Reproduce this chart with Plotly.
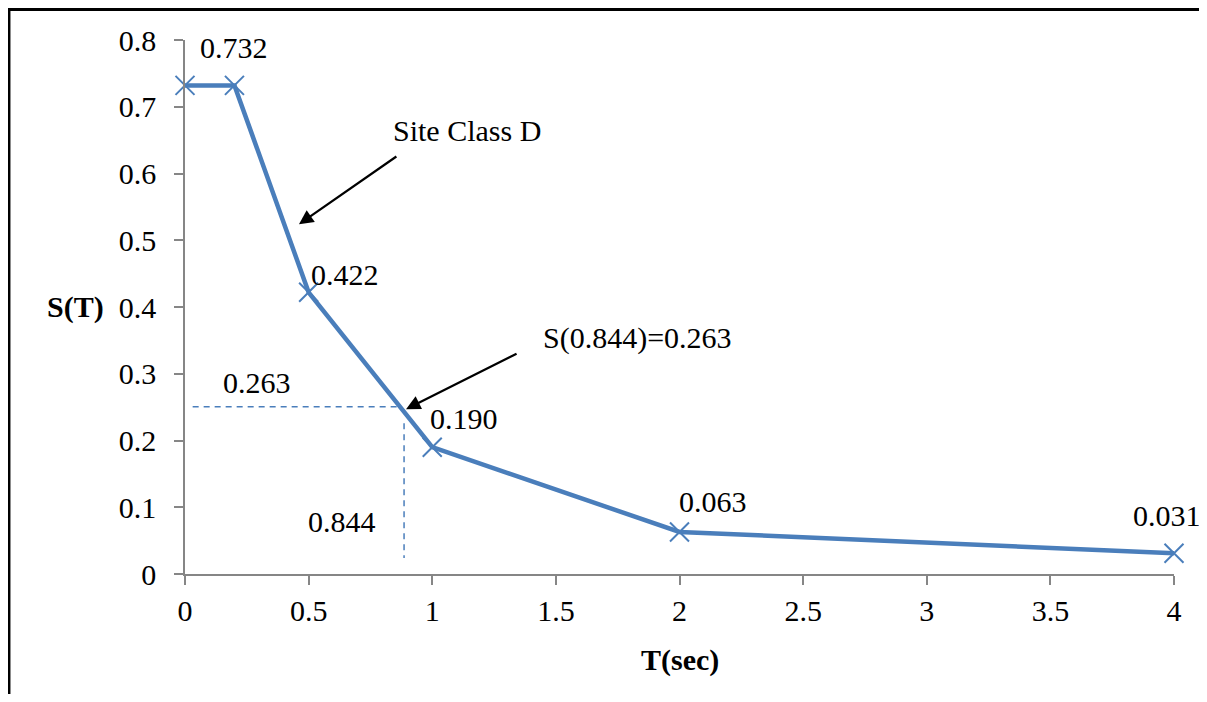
import plotly.graph_objects as go

# Data
period = [0, 0.2, 0.5, 1, 2, 4]
spectral = [0.732, 0.732, 0.422, 0.190, 0.063, 0.031]
point_labels = ["", "0.732", "0.422", "0.190", "0.063", "0.031"]

x_ticks = [0, 0.5, 1, 1.5, 2, 2.5, 3, 3.5, 4]
x_tick_text = ["0", "0.5", "1", "1.5", "2", "2.5", "3", "3.5", "4"]
y_ticks = [0, 0.1, 0.2, 0.3, 0.4, 0.5, 0.6, 0.7, 0.8]
y_tick_text = ["0", "0.1", "0.2", "0.3", "0.4", "0.5", "0.6", "0.7", "0.8"]

# Reference lines for S(0.844)
ref_h_x = [0.031, 0.869]
ref_h_y = [0.2504, 0.2504]
ref_v_x = [0.886, 0.886]
ref_v_y = [0.226, 0.024]

BLUE = "#4A7EBB"
FONT = "Times New Roman"
FS = 30

# plot area in page pixels (page has an 8px body margin)
PX0, PX1, PY0, PY1 = 185, 1174, 40, 574
FIG_W, FIG_H = 1191, 686


def px_to_paper_x(px):
    return (px - PX0) / (PX1 - PX0)


def px_to_paper_y(py):
    return (PY1 - py) / (PY1 - PY0)


fig = go.Figure()

fig.add_trace(go.Scatter(
    x=ref_h_x, y=ref_h_y, mode="lines",
    line=dict(color=BLUE, width=1.5, dash="6px,5px"),
    hoverinfo="skip", showlegend=False))
fig.add_trace(go.Scatter(
    x=ref_v_x, y=ref_v_y, mode="lines",
    line=dict(color=BLUE, width=1.5, dash="6px,5px"),
    hoverinfo="skip", showlegend=False))

fig.add_trace(go.Scatter(
    x=period, y=spectral, mode="lines+markers",
    line=dict(color=BLUE, width=4.5),
    marker=dict(symbol="x-thin", size=19, line=dict(color=BLUE, width=2)),
    showlegend=False, cliponaxis=False))

# Data labels
shifts = [(0, 0), (0, 38), (36, 18), (32, 29), (33, 30), (-7, 38)]
for xv, yv, lab, (dx, dy) in zip(period, spectral, point_labels, shifts):
    if not lab:
        continue
    fig.add_annotation(x=xv, y=yv, text=lab, showarrow=False,
                       xshift=dx, yshift=dy, xanchor="center", yanchor="middle",
                       font=dict(family=FONT, size=FS, color="black"))

# Arrows
fig.add_annotation(x=0.461, y=0.524, ax=0.861, ay=0.627, axref="x", ayref="y",
                   text="", showarrow=True, arrowhead=2, arrowsize=1.3,
                   arrowwidth=2.2, arrowcolor="black")
fig.add_annotation(x=0.894, y=0.247, ax=1.347, ay=0.331, axref="x", ayref="y",
                   text="", showarrow=True, arrowhead=2, arrowsize=1.3,
                   arrowwidth=2.2, arrowcolor="black")

# Text annotations
texts = [
    (1.142, 0.665, "Site Class D"),
    (1.83, 0.353, "S(0.844)=0.263"),
    (0.291, 0.287, "0.263"),
    (0.635, 0.078, "0.844"),
]
for xv, yv, t in texts:
    fig.add_annotation(x=xv, y=yv, text=t, showarrow=False,
                       xanchor="center", yanchor="middle",
                       font=dict(family=FONT, size=FS, color="black"))

# Axis titles
fig.add_annotation(xref="paper", yref="y", x=px_to_paper_x(75), y=0.4, text="<b>S(T)</b>",
                   showarrow=False, xanchor="center", yanchor="middle",
                   font=dict(family=FONT, size=FS, color="black"))
fig.add_annotation(xref="x", yref="paper", x=2, y=px_to_paper_y(660), text="<b>T(sec)</b>",
                   showarrow=False, xanchor="center", yanchor="middle",
                   font=dict(family=FONT, size=FS, color="black"))

# Frame (left and top lines)
fig.add_shape(type="line", xref="paper", yref="paper",
              x0=px_to_paper_x(9.2), x1=px_to_paper_x(9.2),
              y0=px_to_paper_y(8), y1=px_to_paper_y(710),
              line=dict(color="black", width=2.5))
fig.add_shape(type="line", xref="paper", yref="paper",
              x0=px_to_paper_x(8), x1=px_to_paper_x(1215),
              y0=px_to_paper_y(9.5), y1=px_to_paper_y(9.5),
              line=dict(color="black", width=3))

axis_common = dict(showgrid=False, zeroline=False, showline=True,
                   linecolor="#868686", linewidth=1.5, ticks="outside",
                   ticklen=9, tickwidth=1.5, tickcolor="#868686",
                   tickfont=dict(family=FONT, size=FS, color="black"))

fig.update_xaxes(range=[0, 4], tickvals=x_ticks, ticktext=x_tick_text, **axis_common)
fig.update_yaxes(range=[0, 0.8], tickvals=y_ticks, ticktext=y_tick_text,
                 ticklabelstandoff=12, **axis_common)

fig.update_layout(
    width=FIG_W, height=FIG_H,
    margin=dict(l=PX0 - 8, r=8 + FIG_W - PX1, t=PY0 - 8, b=8 + FIG_H - PY1),
    paper_bgcolor="white", plot_bgcolor="white",
    font=dict(family=FONT, size=FS, color="black"),
)

fig.write_html("out.html", config={"displayModeBar": False})
